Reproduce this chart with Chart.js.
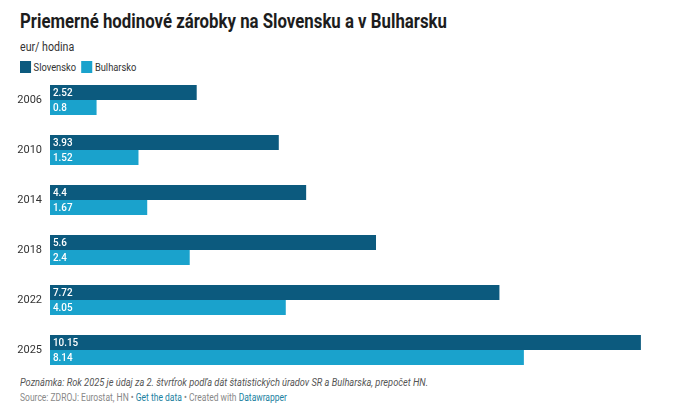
<!DOCTYPE html>
<html>
<head>
<meta charset="utf-8">
<script src="https://cdn.jsdelivr.net/npm/chart.js@4"></script>
<style>
  body { margin: 0; background: #fff; font-family: Roboto, sans-serif; width: 690px; height: 409px; position: relative; overflow: hidden; }
  #title { position: absolute; left: 20px; top: 9px; font-size: 20px; font-weight: 700; color: #1d1d1d; white-space: nowrap; transform-origin: left top; transform: scaleX(0.84); }
  #sub { position: absolute; left: 20px; top: 39px; font-size: 12.5px; color: #333; transform-origin: left top; transform: scaleX(0.85); }
  #legend { position: absolute; left: 20px; top: 61px; font-size: 11px; color: #333; white-space: nowrap; transform-origin: left top; transform: scaleX(0.85); }
  #legend i { display: inline-block; width: 13px; height: 12px; vertical-align: -2px; margin-right: 3px; }
  #legend b { font-weight: 400; margin-right: 6px; }
  #wrap { position: absolute; left: 0; top: 75px; width: 690px; height: 300px; }
  #note { position: absolute; left: 20px; top: 376px; font-size: 11px; font-style: italic; color: #555; white-space: nowrap; transform-origin: left top; transform: scaleX(0.84); }
  #src { position: absolute; left: 20px; top: 392px; font-size: 10px; color: #888; white-space: nowrap; transform-origin: left top; transform: scaleX(0.85); }
  #src span { color: #1a7fa0; }
</style>
</head>
<body>
<div id="title">Priemerné hodinové zárobky na Slovensku a v Bulharsku</div>
<div id="sub">eur/ hodina</div>
<div id="legend"></div>
<div id="wrap"><canvas id="myChart" width="690" height="300"></canvas></div>
<div id="note">Poznámka: Rok 2025 je údaj za 2. štvrťrok podľa dát štatistických úradov SR a Bulharska, prepočet HN.</div>
<div id="src">Source: ZDROJ: Eurostat, HN • <span>Get the data</span> • Created with <span>Datawrapper</span></div>
<script>
const years = ['2006', '2010', '2014', '2018', '2022', '2025'];
const slovensko = [2.52, 3.93, 4.4, 5.6, 7.72, 10.15];
const bulharsko = [0.8, 1.52, 1.67, 2.4, 4.05, 8.14];

// white value labels at the start of each bar (slightly condensed like the original)
const valueLabels = {
    id: 'valueLabels',
    afterDatasetsDraw(chart) {
        const ctx = chart.ctx;
        chart.data.datasets.forEach((ds, i) => {
            chart.getDatasetMeta(i).data.forEach((bar, j) => {
                ctx.save();
                ctx.translate(bar.base + 3, bar.y + 0.5);
                ctx.scale(0.86, 1);
                ctx.fillStyle = '#fff';
                ctx.font = '500 11.5px Roboto';
                ctx.textBaseline = 'middle';
                ctx.fillText(String(ds.data[j]), 0, 0);
                ctx.restore();
            });
        });
    }
};

const ctx = document.getElementById('myChart');
const myChart = new Chart(ctx, {
    type: 'bar',
    data: {
        labels: years,
        datasets: [{
            label: 'Slovensko',
            data: slovensko,
            backgroundColor: '#0c5a7e'
        },
        {
            label: 'Bulharsko',
            data: bulharsko,
            backgroundColor: '#1aa2cc'
        }]
    },
    options: {
        indexAxis: 'y',
        responsive: false,
        animation: false,
        layout: { padding: { left: 12, right: 20, top: 0, bottom: 0 } },
        datasets: {
            bar: { barPercentage: 1, categoryPercentage: 0.6 }
        },
        scales: {
            x: {
                display: false,
                min: 0,
                max: 10.65
            },
            y: {
                afterFit: axis => {
                    axis.width = 38;
                    // labels sit mid-category, no extra room needed above/below
                    axis.paddingTop = 0;
                    axis.paddingBottom = 0;
                },
                grid: { display: false, drawTicks: false },
                border: { display: false },
                ticks: { color: '#333', font: { family: 'Roboto', size: 11 }, padding: 8 }
            }
        },
        plugins: {
            tooltip: { enabled: false },
            legend: { display: false }
        }
    },
    plugins: [valueLabels]
});

// html legend built from the chart's datasets
document.getElementById('legend').innerHTML = myChart.data.datasets
    .map(ds => `<i style="background:${ds.backgroundColor}"></i><b>${ds.label}</b>`)
    .join('');
</script>
</body>
</html>
